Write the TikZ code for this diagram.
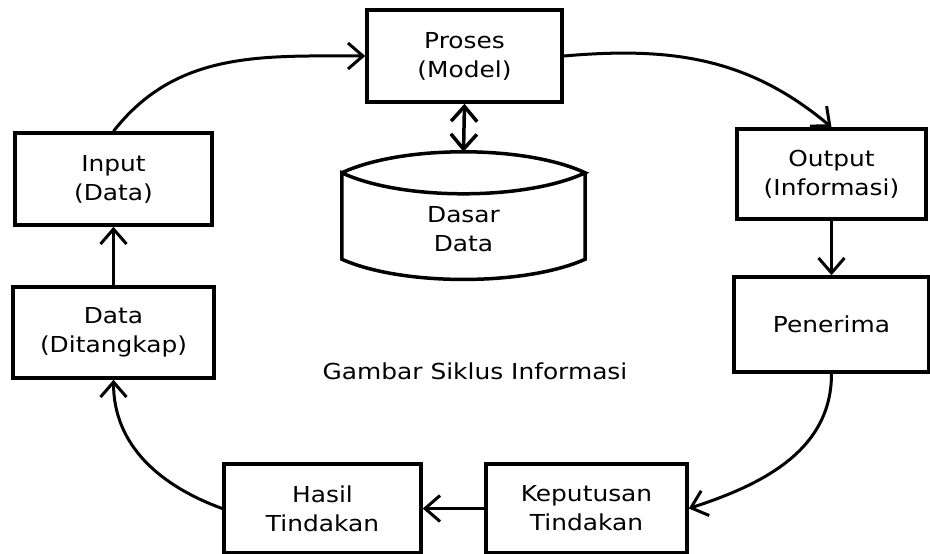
\documentclass[tikz,border=0pt]{standalone}
\usepackage{fontspec}
\setmainfont{DejaVu Sans}[FakeStretch=1.13]
\usetikzlibrary{arrows.meta}
\tikzset{
  teks/.style={font=\fontsize{22}{29}\selectfont, align=center, inner sep=0pt},
  kotak/.style={teks, draw, line width=3.5pt},
  ujung/.tip={Straight Barb[length=15pt,width=26pt]},
  panah/.style={line width=3pt, -ujung},
}
\begin{document}
\begin{tikzpicture}[x=1pt,y=1pt]
      \useasboundingbox (0,0) rectangle (930,-554);
      \node[kotak, minimum width=195pt, minimum height=92pt] (proses) at (464.5,-56) {Proses\\(Model)};
      \node[kotak, minimum width=197pt, minimum height=92pt] (input) at (113.5,-179) {Input\\(Data)};
      \node[kotak, minimum width=201pt, minimum height=91pt] (data) at (113.5,-332.5) {Data\\(Ditangkap)};
      \node[kotak, minimum width=189pt, minimum height=90pt] (output) at (831.5,-174) {Output\\(Informasi)};
      \node[kotak, minimum width=195pt, minimum height=95pt] (penerima) at (831.5,-324.5) {Penerima};
      \node[kotak, minimum width=201pt, minimum height=89pt] (keputusan) at (586.5,-508.5) {Keputusan\\Tindakan};
      \node[kotak, minimum width=197pt, minimum height=89pt] (hasil) at (322.5,-508.5) {Hasil\\Tindakan};
      \node[teks, minimum width=243pt, minimum height=112pt] (dasar) at (463.5,-229) {Dasar\\Data};
      \node[teks] (judul) at (475,-371) {Gambar Siklus Informasi};
      % tabung dasar data
      \draw[line width=3.5pt]
        (dasar.north west) .. controls +(60,28) and +(-60,28) .. (dasar.north east)
        .. controls +(-60,-28) and +(60,-28) .. (dasar.north west)
        -- ([yshift=26pt]dasar.south west)
        .. controls +(60,-27) and +(-60,-27) .. ([yshift=26pt]dasar.south east)
        -- (dasar.north east);
      \begin{scope}[panah]
        \draw (input.north) to[out=52, in=180] (proses.west);
        \draw (proses.east) to[out=5, in=140] (output.north);
        \draw (output.south) -- (penerima.north);
        \draw (penerima.south) to[out=-90, in=18] (keputusan.east);
        \draw (keputusan.west) -- (hasil.east);
        \draw (hasil.west) to[out=160, in=-90] (data.south);
        \draw (data.north) -- (input.south);
        \draw[line width=3.5pt, ujung-ujung] (proses.south) -- ([yshift=21pt]dasar.north);
      \end{scope}
\end{tikzpicture}
\end{document}
